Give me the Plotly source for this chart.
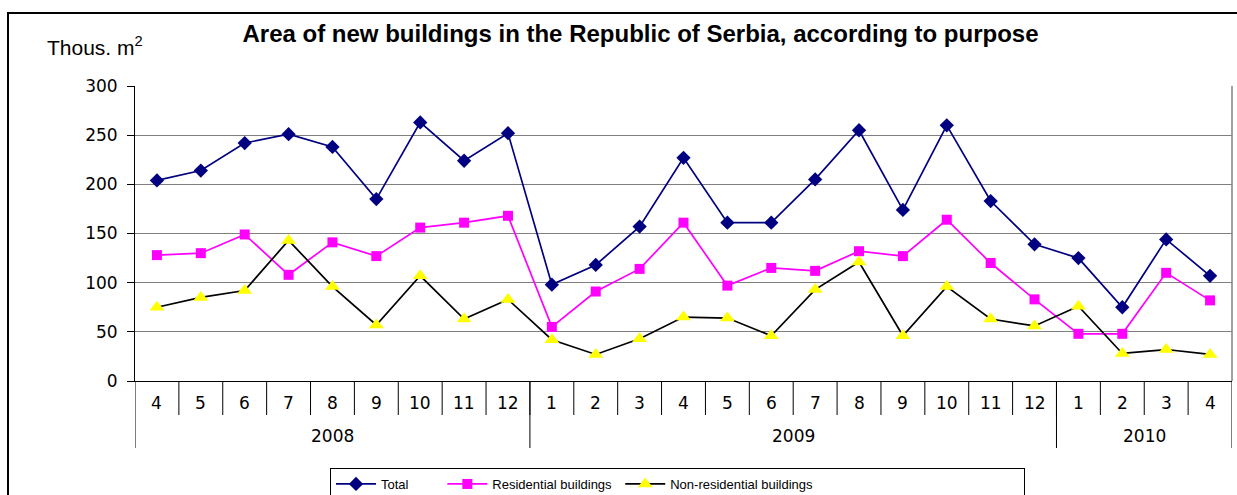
import plotly.graph_objects as go

months = ["4", "5", "6", "7", "8", "9", "10", "11", "12",
          "1", "2", "3", "4", "5", "6", "7", "8", "9", "10", "11", "12",
          "1", "2", "3", "4"]
years = ["2008", "2009", "2010"]
year_counts = [9, 12, 4]

total = [204, 214, 242, 251, 238, 185, 263, 224, 252,
         98, 118, 157, 227, 161, 161, 205, 255, 174, 260, 183, 139,
         125, 75, 144, 107]
residential = [128, 130, 149, 108, 141, 127, 156, 161, 168,
               55, 91, 114, 161, 97, 115, 112, 132, 127, 164, 120, 83,
               48, 48, 110, 82]
non_residential = [75, 85, 92, 143, 96, 57, 107, 63, 83,
                   42, 27, 43, 65, 64, 46, 93, 121, 46, 96, 63, 56,
                   76, 28, 32, 27]

FONT = "Liberation Sans, Arial, sans-serif"
NUMFONT = "DejaVu Sans, Verdana, sans-serif"
NB = "\u00a0"

x = list(range(len(months)))

# plot area in pixels
W, H = 1237, 495
L, R, T, B = 135, 1232, 86, 381
pw, ph = R - L, B - T

def py(pix):  # pixel y -> paper y
    return (B - pix) / ph

def px(pix):
    return (pix - L) / pw

fig = go.Figure()
fig.add_trace(go.Scatter(x=x, y=total, name="Total" + NB * 8, mode="lines+markers",
                         line=dict(color="#000080", width=1.7),
                         marker=dict(symbol="diamond", size=11, color="#000080")))
fig.add_trace(go.Scatter(x=x, y=residential, name="Residential buildings" + NB, mode="lines+markers",
                         line=dict(color="#FF00FF", width=1.7),
                         marker=dict(symbol="square", size=10, color="#FF00FF")))
fig.add_trace(go.Scatter(x=x, y=non_residential, name="Non-residential buildings" + NB * 57, mode="lines+markers",
                         line=dict(color="#000000", width=1.7),
                         marker=dict(symbol="triangle-up", size=13, color="#FFFF00")))

shapes = []
annotations = []
# month separators
for i in range(1, len(months)):
    shapes.append(dict(type="line", xref="x", yref="paper", x0=i - 0.5, x1=i - 0.5,
                       y0=0, y1=py(415), line=dict(color="black", width=1)))
# month labels
for i, m in enumerate(months):
    annotations.append(dict(x=i, y=py(402.5), xref="x", yref="paper", text=m, showarrow=False,
                            font=dict(size=17, color="black", family=NUMFONT), yanchor="middle"))
# year groups
start = 0
bounds = [0]
for yv, c in zip(years, year_counts):
    mid = start + (c - 1) / 2
    annotations.append(dict(x=mid, y=py(435.5), xref="x", yref="paper", text=yv, showarrow=False,
                            font=dict(size=17, color="black", family=NUMFONT), yanchor="middle"))
    start += c
    bounds.append(start)
for b in bounds:
    shapes.append(dict(type="line", xref="x", yref="paper", x0=b - 0.5, x1=b - 0.5,
                       y0=0, y1=py(448), line=dict(color="black", width=1)))
# right plot border
shapes.append(dict(type="line", xref="paper", yref="paper", x0=1, x1=1, y0=0, y1=1,
                   line=dict(color="#808080", width=1.5)))
# outer chart frame
shapes.append(dict(type="rect", xref="paper", yref="paper", x0=px(8), x1=px(1300),
                   y0=py(560), y1=py(13), line=dict(color="black", width=2), layer="below"))

annotations.append(dict(x=px(45), y=py(46), xref="paper", yref="paper", text="Thous. m<sup>2</sup>",
                        showarrow=False, xanchor="left", yanchor="middle",
                        font=dict(size=21, color="black", family=FONT)))

fig.update_layout(
    width=W, height=H,
    margin=dict(l=L, r=W - R, t=T, b=H - B, autoexpand=False),
    paper_bgcolor="white", plot_bgcolor="white",
    font=dict(family=FONT, color="black"),
    title=dict(text="<b>Area of new buildings in the Republic of Serbia, according to purpose</b>",
               x=640.5 / W, xanchor="center", y=1 - 34 / H, yanchor="middle",
               font=dict(size=24, color="black", family=FONT)),
    xaxis=dict(range=[-0.5, len(months) - 0.5], showticklabels=False, showgrid=False,
               zeroline=False, showline=True, linecolor="black", linewidth=1, ticks=""),
    yaxis=dict(range=[0, 300], dtick=50, tick0=0, showgrid=True, gridcolor="#808080", gridwidth=1,
               zeroline=False, showline=True, linecolor="black", linewidth=1,
               ticks="outside", ticklen=7, tickcolor="black", ticklabelstandoff=6,
               tickfont=dict(size=17, color="black", family=NUMFONT)),
    showlegend=True,
    legend=dict(orientation="h", x=px(330), xanchor="left", y=py(468), yanchor="top",
                bordercolor="black", borderwidth=1, bgcolor="white", itemwidth=40,
                font=dict(size=13, color="black", family=FONT)),
    shapes=shapes, annotations=annotations,
)

fig.write_html("out.html")
